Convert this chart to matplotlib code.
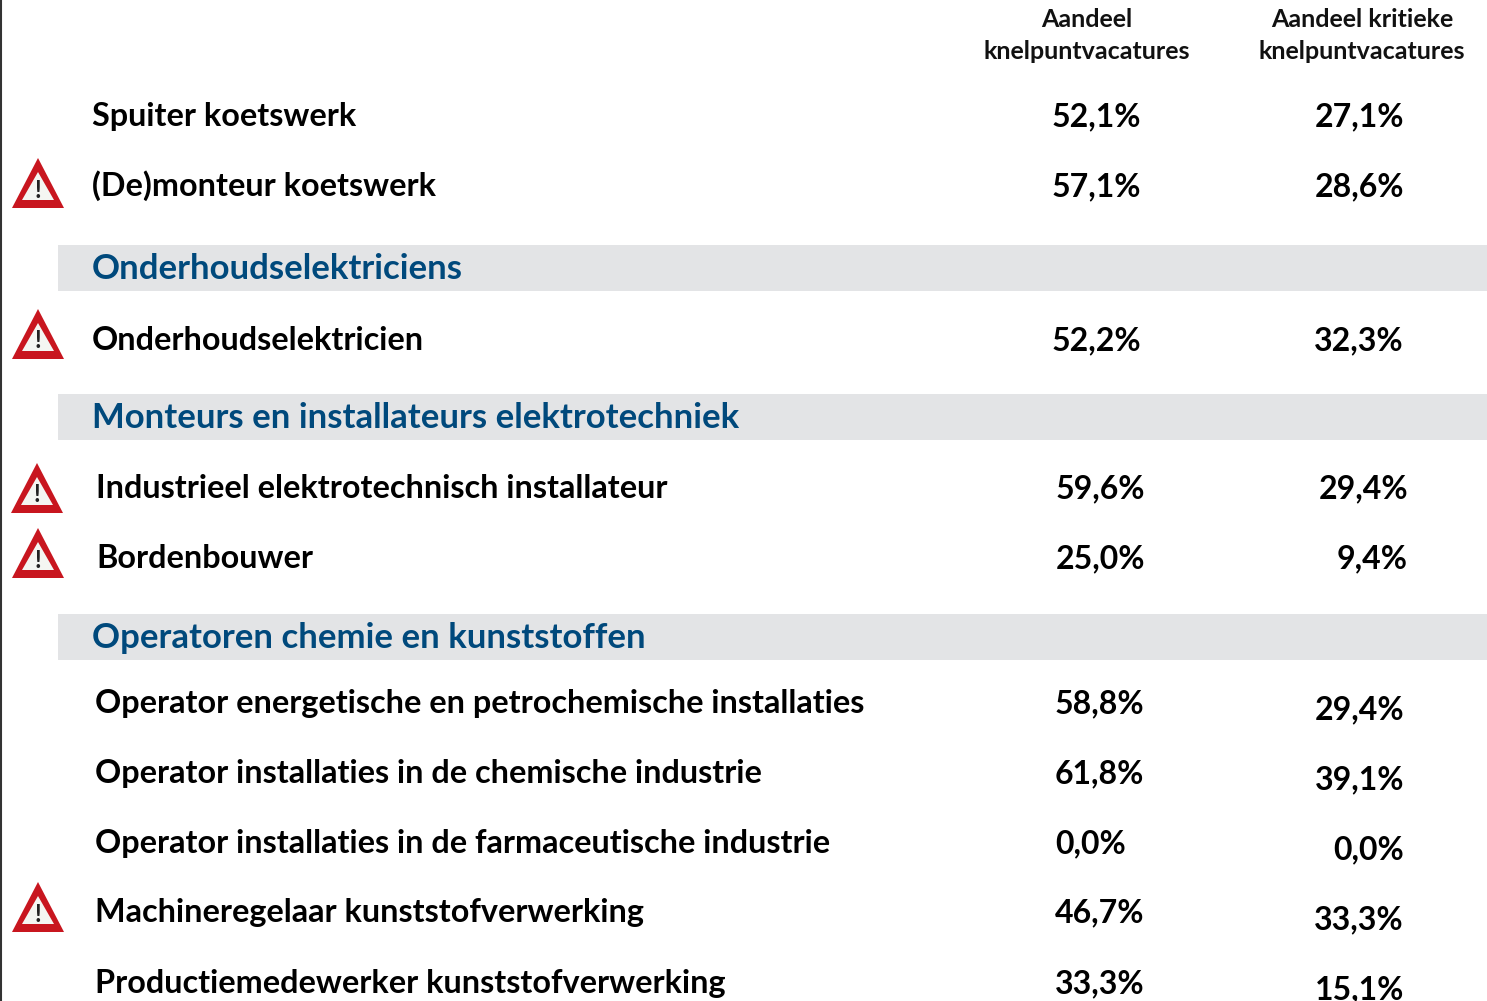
import matplotlib
matplotlib.use("Agg")
import matplotlib.pyplot as plt
from matplotlib.patches import Polygon, Rectangle

W, H = 1487, 1001
plt.rcParams['font.family'] = ['Lato', 'DejaVu Sans']

headers = [("Aandeel", "knelpuntvacatures"), ("Aandeel kritieke", "knelpuntvacatures")]
header_x = [1087, 1362]

section_names = ["Onderhoudselektriciens", "Monteurs en installateurs elektrotechniek", "Operatoren chemie en kunststoffen"]
section_y = [268, 417, 637]

names = ["Spuiter koetswerk", "(De)monteur koetswerk", "Onderhoudselektricien",
         "Industrieel elektrotechnisch installateur", "Bordenbouwer",
         "Operator energetische en petrochemische installaties",
         "Operator installaties in de chemische industrie",
         "Operator installaties in de farmaceutische industrie",
         "Machineregelaar kunststofverwerking",
         "Productiemedewerker kunststofverwerking"]
name_x = [92, 92, 92, 96, 96, 95, 95, 95, 95, 95]
name_y = [126, 196, 350, 498, 568, 713, 783, 853, 922, 993]
share = ["52,1%", "57,1%", "52,2%", "59,6%", "25,0%", "58,8%", "61,8%", "0,0%", "46,7%", "33,3%"]
share_x = [1052, 1052, 1052, 1056, 1056, 1055, 1055, 1055, 1055, 1055]
critical = ["27,1%", "28,6%", "32,3%", "29,4%", "9,4%", "29,4%", "39,1%", "0,0%", "33,3%", "15,1%"]
crit_right = [1404, 1404, 1404, 1408, 1408, 1404, 1404, 1404, 1404, 1404]
crit_y = [126, 196, 350, 498, 568, 719, 789, 859, 929, 999]
warning_y = [185, 336, 490, 555, 909]
warning_x = [38, 38, 37, 38, 38]

fig = plt.figure(figsize=(W / 100, H / 100), dpi=100)
ax = fig.add_axes([0, 0, 1, 1])
ax.set_xlim(0, W)
ax.set_ylim(H, 0)
ax.axis("off")

ax.plot([1, 1], [0, H], color="#333333", lw=1.5, zorder=3)

for y in section_y:
    ax.add_patch(Rectangle((58, y - 23), W - 58, 46, fc="#e3e4e6", ec="none"))
for t, y in zip(section_names, section_y):
    ax.text(92, y + 11, t, color="#00497c", fontsize=25, fontweight="bold", va="baseline", ha="left")

for (a, b), x in zip(headers, header_x):
    ax.text(x, 27, a, fontsize=18, fontweight="bold", color="#111111", ha="center", va="baseline")
    ax.text(x, 59, b, fontsize=18, fontweight="bold", color="#111111", ha="center", va="baseline")

for n, x, y, s, sx, c, cr, cy in zip(names, name_x, name_y, share, share_x, critical, crit_right, crit_y):
    ax.text(x, y, n, fontsize=23.3, fontweight="bold", color="black", va="baseline", ha="left")
    ax.text(sx, y, s, fontsize=23, fontweight="bold", color="black", va="baseline", ha="left")
    ax.text(cr, cy, c, fontsize=23, fontweight="bold", color="black", va="baseline", ha="right")

for x, y in zip(warning_x, warning_y):
    ax.add_patch(Polygon([(x, y - 27), (x + 26, y + 23), (x - 26, y + 23)], closed=True,
                         fc="#c8161f", ec="none"))
    ax.add_patch(Polygon([(x, y - 13), (x + 16, y + 15), (x - 16, y + 15)], closed=True,
                         fc="#f4f6f2", ec="none"))
    ax.text(x, y + 5, "!", fontsize=17, fontweight="bold", color="#222222", ha="center", va="center")

fig.savefig("out.png", dpi=100)
